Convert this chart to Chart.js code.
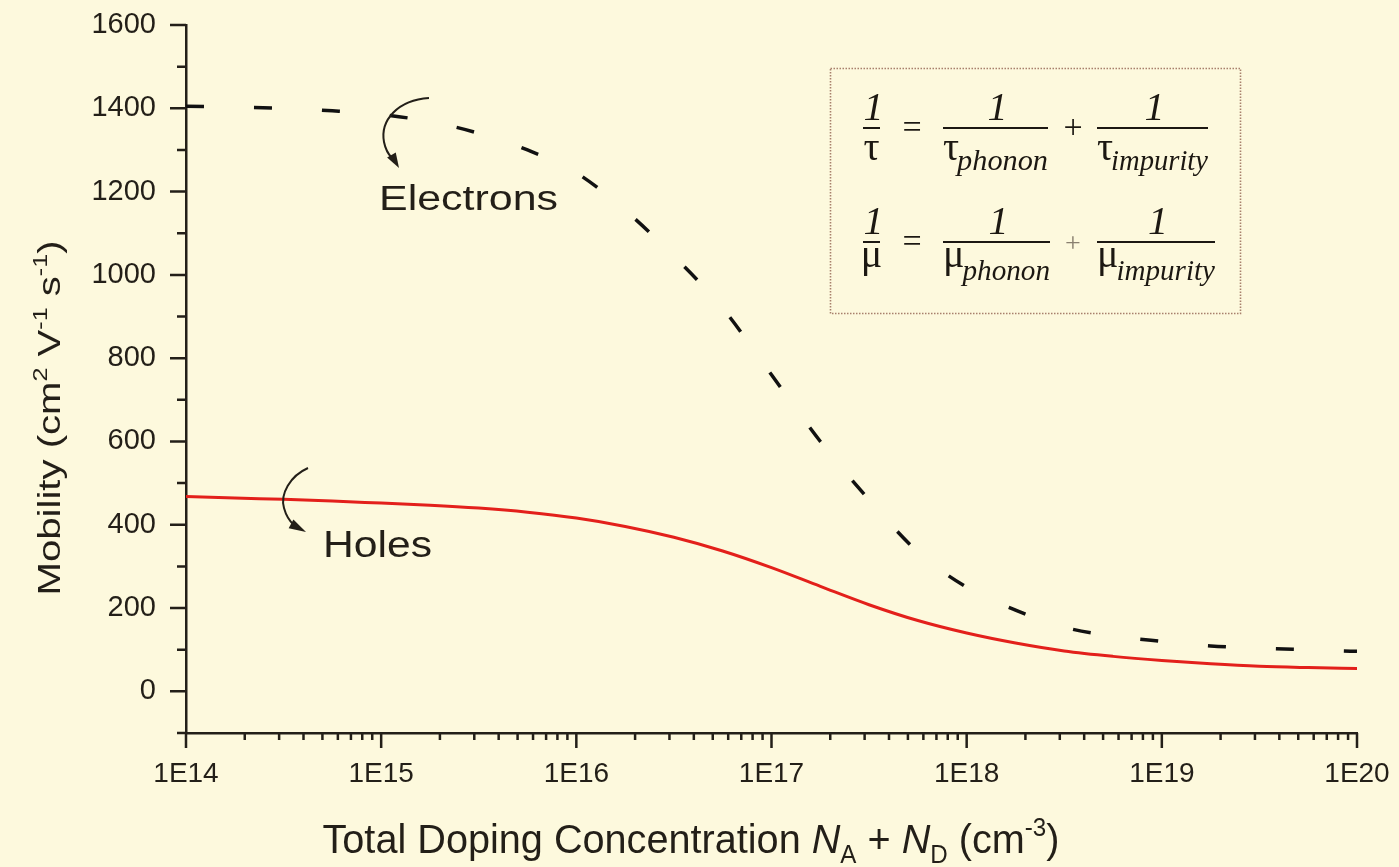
<!DOCTYPE html>
<html>
<head>
<meta charset="utf-8">
<title>Mobility vs doping</title>
<script src="https://cdn.jsdelivr.net/npm/chart.js@4.4.1/dist/chart.umd.min.js"></script>
<style>
  html, body { margin: 0; padding: 0; background: #fdf9dd; }
  canvas { display: block; }
</style>
</head>
<body>
<canvas id="mobilityChart" width="1399" height="867"></canvas>
<script>
// values, quarter-decade steps
const electronConc = [1e14, 1.78e14, 3.16e14, 5.62e14, 1e15, 1.78e15, 3.16e15, 5.62e15, 1e16, 1.78e16, 3.16e16, 5.62e16, 1e17, 1.78e17, 3.16e17, 5.62e17, 1e18, 1.78e18, 3.16e18, 5.62e18, 1e19, 1.78e19, 3.16e19, 5.62e19, 1e20];
const electronMobility = [1405, 1403, 1400, 1394, 1385, 1368, 1340, 1300, 1245, 1155, 1045, 920, 760, 600, 460, 335, 250, 195, 154, 133, 120, 109, 104, 100, 96];

const holeConc = [1e14, 1.78e14, 3.16e14, 5.62e14, 1e15, 1.78e15, 3.16e15, 5.62e15, 1e16, 1.78e16, 3.16e16, 5.62e16, 1e17, 1.78e17, 3.16e17, 5.62e17, 1e18, 1.78e18, 3.16e18, 5.62e18, 1e19, 1.78e19, 3.16e19, 5.62e19, 1e20];
const holeMobility = [468, 464, 461, 457, 452, 447, 440, 430, 416, 396, 370, 337, 297, 252, 208, 170, 140, 116, 97, 84, 74, 66, 60, 57, 55];

const xTicks = [1e14, 1e15, 1e16, 1e17, 1e18, 1e19, 1e20];
const xTickLabels = ['1E14', '1E15', '1E16', '1E17', '1E18', '1E19', '1E20'];
const yTicks = [0, 200, 400, 600, 800, 1000, 1200, 1400, 1600];
const yMinorTicks = [-100, 100, 300, 500, 700, 900, 1100, 1300, 1500];

const INK = '#231f18';
const SANS = '"Liberation Sans", Arial, Helvetica, sans-serif';
const SERIF = '"Liberation Serif", "Times New Roman", serif';

function toPoints(xs, ys) {
  return xs.map((x, i) => ({ x: x, y: ys[i] }));
}

// draw a run of text pieces (sup/sub/italic), stretched to a given width
function drawRich(ctx, segs, cx, baseY, size, targetW, angle) {
  const fontOf = s => (s.it ? 'italic ' : '') + Math.round((s.sup || s.sub) ? size * 0.62 : size) + 'px ' + SANS;
  let natural = 0;
  segs.forEach(s => { ctx.font = fontOf(s); s.w = ctx.measureText(s.t).width; natural += s.w; });
  ctx.save();
  ctx.translate(cx, baseY);
  ctx.rotate(angle || 0);
  ctx.scale(targetW / natural, 1);
  ctx.fillStyle = INK;
  ctx.textBaseline = 'alphabetic';
  ctx.textAlign = 'left';
  let x = -natural / 2;
  segs.forEach(s => {
    ctx.font = fontOf(s);
    const dy = s.sup ? -size * 0.42 : s.sub ? size * 0.24 : 0;
    ctx.fillText(s.t, x, dy);
    x += s.w;
  });
  ctx.restore();
}

function drawLabel(ctx, text, left, baseY, size, targetW) {
  ctx.save();
  ctx.font = size + 'px ' + SANS;
  const w = ctx.measureText(text).width;
  ctx.translate(left, baseY);
  ctx.scale(targetW / w, 1);
  ctx.fillStyle = INK;
  ctx.textAlign = 'left';
  ctx.textBaseline = 'alphabetic';
  ctx.fillText(text, 0, 0);
  ctx.restore();
}

function arrowHead(ctx, tx, ty, ang, len, half) {
  ctx.beginPath();
  ctx.moveTo(tx, ty);
  ctx.lineTo(tx - len * Math.cos(ang) + half * Math.sin(ang), ty - len * Math.sin(ang) - half * Math.cos(ang));
  ctx.lineTo(tx - len * Math.cos(ang) - half * Math.sin(ang), ty - len * Math.sin(ang) + half * Math.cos(ang));
  ctx.closePath();
  ctx.fill();
}

// keep the label overflow from pushing the plot area around
function noPad(s) {
  s.paddingTop = 0; s.paddingBottom = 0; s.paddingLeft = 0; s.paddingRight = 0;
}

const decorPlugin = {
  id: 'decor',
  afterDraw(chart) {
    const ctx = chart.ctx;
    const xs = chart.scales.x, ys = chart.scales.y;
    const left = chart.chartArea.left, bottom = chart.chartArea.bottom;

    // tick marks, outward
    ctx.save();
    ctx.strokeStyle = INK;
    ctx.lineWidth = 2.5;
    ctx.beginPath();
    yTicks.forEach(v => { const p = ys.getPixelForValue(v); ctx.moveTo(left - 16, p); ctx.lineTo(left, p); });
    yMinorTicks.forEach(v => { const p = ys.getPixelForValue(v); ctx.moveTo(left - 9, p); ctx.lineTo(left, p); });
    xTicks.forEach(v => { const p = xs.getPixelForValue(v); ctx.moveTo(p, bottom); ctx.lineTo(p, bottom + 15); });
    for (let e = 14; e < 20; e++) {
      for (let k = 2; k <= 9; k++) {
        const p = xs.getPixelForValue(k * Math.pow(10, e));
        ctx.moveTo(p, bottom); ctx.lineTo(p, bottom + 7);
      }
    }
    ctx.stroke();
    ctx.restore();

    // axis titles
    drawRich(ctx, [
      { t: 'Mobility (cm' }, { t: '2', sup: true }, { t: ' V' }, { t: '-1', sup: true },
      { t: ' s' }, { t: '-1', sup: true }, { t: ')' }
    ], 60, 418, 32, 355, -Math.PI / 2);
    drawRich(ctx, [
      { t: 'Total Doping Concentration ' }, { t: 'N', it: true }, { t: 'A', sub: true },
      { t: ' + ' }, { t: 'N', it: true }, { t: 'D', sub: true }, { t: ' (cm' },
      { t: '-3', sup: true }, { t: ')' }
    ], 691, 853, 41, 737, 0);

    // curve labels with curved arrows
    drawLabel(ctx, 'Electrons', 379, 210, 35, 179);
    drawLabel(ctx, 'Holes', 323, 557, 37, 109);
    ctx.save();
    ctx.strokeStyle = INK;
    ctx.fillStyle = INK;
    ctx.lineWidth = 2;
    ctx.beginPath();
    ctx.moveTo(429, 98);
    ctx.bezierCurveTo(398, 100, 380, 120, 384, 142);
    ctx.quadraticCurveTo(386, 152, 392, 158);
    ctx.stroke();
    arrowHead(ctx, 399, 168, Math.atan2(12, 7), 15, 5);
    ctx.beginPath();
    ctx.moveTo(308, 468);
    ctx.bezierCurveTo(290, 476, 280, 494, 284, 508);
    ctx.quadraticCurveTo(287, 519, 294, 525);
    ctx.stroke();
    arrowHead(ctx, 306, 532, Math.atan2(7, 13), 17, 5);
    ctx.restore();

    // formula box
    ctx.save();
    ctx.strokeStyle = '#a8806c';
    ctx.lineWidth = 1.6;
    ctx.setLineDash([1.5, 1.5]);
    ctx.strokeRect(830.5, 68.5, 410, 245);
    ctx.setLineDash([]);
    ctx.fillStyle = '#1c1812';
    ctx.strokeStyle = '#1c1812';
    const rows = [
      { bar: 128, g: '\u03C4', gOff: 32, sOff: 42, sub1: 'phonon', sub2: 'impurity' },
      { bar: 242, g: '\u03BC', gOff: 25, sOff: 38, sub1: 'phonon', sub2: 'impurity' }
    ];
    rows.forEach((r, i) => {
      const fr = [
        { a: 863, b: 880, sub: null },
        { a: 943, b: i ? 1050 : 1048, sub: r.sub1 },
        { a: 1097, b: i ? 1215 : 1208, sub: r.sub2 }
      ];
      ctx.lineWidth = 2.2;
      ctx.beginPath();
      fr.forEach(f => { ctx.moveTo(f.a, r.bar); ctx.lineTo(f.b, r.bar); });
      ctx.stroke();
      ctx.textBaseline = 'alphabetic';
      fr.forEach(f => {
        ctx.textAlign = 'center';
        ctx.font = 'italic 40px ' + SERIF;
        ctx.fillText('1', (f.a + f.b) / 2 + 2, r.bar - 8);
        ctx.font = '40px ' + SERIF;
        if (!f.sub) {
          ctx.fillText(r.g, (f.a + f.b) / 2, r.bar + r.gOff);
        } else {
          ctx.textAlign = 'left';
          ctx.fillText(r.g, f.a, r.bar + r.gOff);
          const gw = ctx.measureText(r.g).width;
          ctx.font = 'italic 29px ' + SERIF;
          const sw = ctx.measureText(f.sub).width;
          ctx.save();
          ctx.translate(f.a + gw - 2, r.bar + r.sOff);
          ctx.scale((f.b - f.a - gw + 2) / sw, 1);
          ctx.fillText(f.sub, 0, 0);
          ctx.restore();
        }
      });
      ctx.textAlign = 'center';
      ctx.font = '34px ' + SERIF;
      ctx.fillText('=', 912, r.bar + 10);
      ctx.fillStyle = i ? '#8a8070' : '#1c1812';
      ctx.font = (i ? '28px ' : '34px ') + SERIF;
      ctx.fillText('+', 1073, r.bar + 10);
      ctx.fillStyle = '#1c1812';
    });
    ctx.restore();
  }
};

const ctx = document.getElementById('mobilityChart');
new Chart(ctx, {
  type: 'line',
  data: {
    datasets: [
      {
        label: 'Electrons',
        data: toPoints(electronConc, electronMobility),
        borderColor: '#111111',
        borderWidth: 3.5,
        borderDash: [18, 50],
        cubicInterpolationMode: 'monotone',
        pointRadius: 0,
        fill: false
      },
      {
        label: 'Holes',
        data: toPoints(holeConc, holeMobility),
        borderColor: '#e3201b',
        borderWidth: 3,
        cubicInterpolationMode: 'monotone',
        pointRadius: 0,
        fill: false
      }
    ]
  },
  options: {
    responsive: false,
    animation: false,
    layout: { padding: { top: 25, right: 42, left: 0, bottom: 0 } },
    plugins: {
      legend: { display: false },
      tooltip: { enabled: false },
      title: { display: false }
    },
    scales: {
      x: {
        type: 'logarithmic',
        min: 1e14,
        max: 1e20,
        afterBuildTicks: s => { s.ticks = xTicks.map(v => ({ value: v })); },
        afterFit: s => { s.height = 134; noPad(s); },
        ticks: {
          autoSkip: false,
          maxRotation: 0,
          padding: 24,
          color: INK,
          font: { family: SANS, size: 28 },
          callback: function (value) {
            const i = xTicks.indexOf(value);
            return i >= 0 ? xTickLabels[i] : '';
          }
        },
        grid: { display: true, drawOnChartArea: false, drawTicks: false },
        border: { color: INK, width: 2.5 }
      },
      y: {
        type: 'linear',
        min: -100,
        max: 1600,
        afterBuildTicks: s => { s.ticks = yTicks.map(v => ({ value: v })); },
        afterFit: s => { s.width = 186; noPad(s); },
        ticks: {
          autoSkip: false,
          padding: 30,
          color: INK,
          font: { family: SANS, size: 29 },
          callback: value => String(value)
        },
        grid: { display: true, drawOnChartArea: false, drawTicks: false },
        border: { color: INK, width: 2.5 }
      }
    }
  },
  plugins: [decorPlugin]
});
</script>
</body>
</html>
